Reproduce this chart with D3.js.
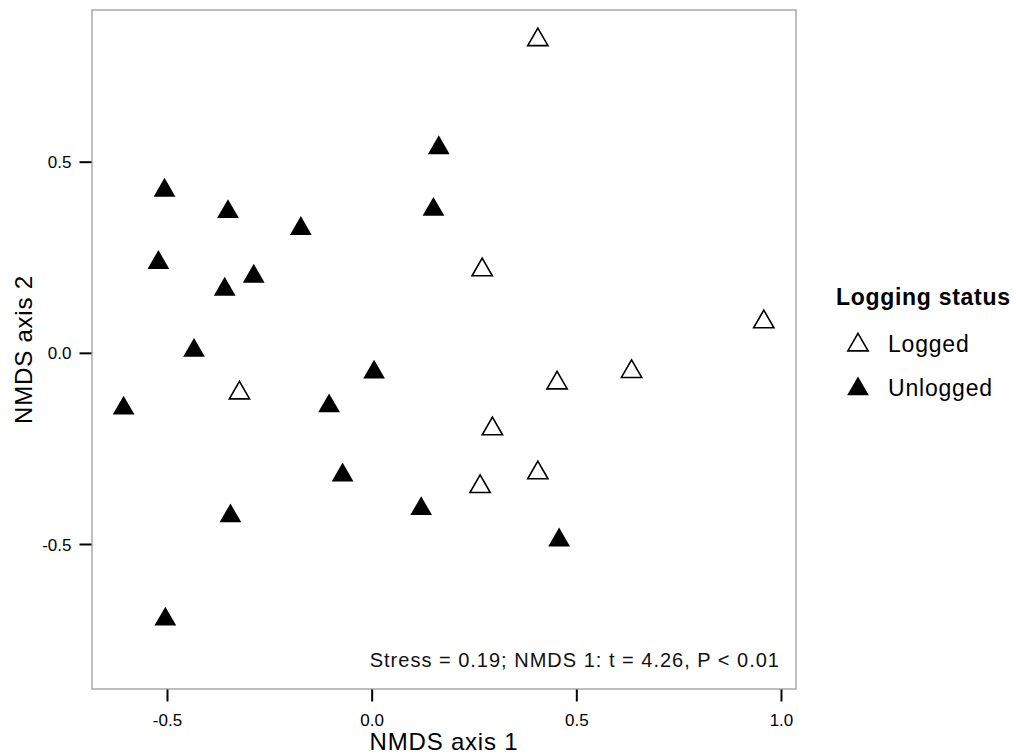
<!DOCTYPE html>
<html>
<head>
<meta charset="utf-8">
<script src="https://cdn.jsdelivr.net/npm/d3@7"></script>
<style>
  body { margin: 0; background: #fff; }
  text { font-family: "Liberation Sans", Arial, sans-serif; }
</style>
</head>
<body>
<svg id="chart" width="1016" height="756"></svg>
<script>
    // groups
    var statuses = ["Logged", "Unlogged"];

    // NMDS scores
    var loggedAxis1 = [0.406, 0.270, 0.958, -0.323, 0.453, 0.635, 0.295, 0.406, 0.265];
    var loggedAxis2 = [0.819, 0.217, 0.081, -0.105, -0.079, -0.049, -0.199, -0.314, -0.350];

    var unloggedAxis1 = [-0.506, -0.351, 0.164, 0.151, -0.173, -0.521, -0.288, -0.359, -0.434,
                         -0.606, 0.006, -0.104, -0.071, -0.345, 0.121, 0.458, -0.504];
    var unloggedAxis2 = [0.425, 0.369, 0.536, 0.375, 0.325, 0.236, 0.200, 0.166, 0.006,
                         -0.145, -0.051, -0.139, -0.320, -0.427, -0.408, -0.490, -0.697];

    var xTicks = [-0.5, 0.0, 0.5, 1.0];
    var yTicks = [-0.5, 0.0, 0.5];

    var note = "Stress = 0.19; NMDS 1: t = 4.26, P < 0.01";

    var svg = d3.select("#chart");

    var panelLeft = 92, panelRight = 796, panelTop = 10, panelBottom = 689;

    var xScale = d3.scaleLinear()
        .domain([-0.6832, 1.0367])
        .range([panelLeft, panelRight]);
    var yScale = d3.scaleLinear()
        .domain([-0.8793, 0.8968])
        .range([panelBottom, panelTop]);

    var points = [];
    loggedAxis1.forEach(function (v, i) {
        points.push({x: v, y: loggedAxis2[i], status: "Logged"});
    });
    unloggedAxis1.forEach(function (v, i) {
        points.push({x: v, y: unloggedAxis2[i], status: "Unlogged"});
    });

    // panel
    svg.append("rect")
        .attr("x", panelLeft)
        .attr("y", panelTop)
        .attr("width", panelRight - panelLeft)
        .attr("height", panelBottom - panelTop)
        .attr("fill", "#fff")
        .attr("stroke", "#a3a3a3")
        .attr("stroke-width", 1.4);

    var fmt = function (d) { return d.toFixed(1); };

    var xAxis = d3.axisBottom(xScale)
        .tickValues(xTicks)
        .tickFormat(fmt)
        .tickSize(12)
        .tickPadding(12);
    var gx = svg.append("g")
        .attr("transform", "translate(0," + (panelBottom + 0.5) + ")")
        .call(xAxis);

    var yAxis = d3.axisLeft(yScale)
        .tickValues(yTicks)
        .tickFormat(fmt)
        .tickSize(12)
        .tickPadding(8);
    var gy = svg.append("g")
        .attr("transform", "translate(" + (panelLeft - 0.5) + ",0)")
        .call(yAxis);

    [gx, gy].forEach(function (g) {
        g.select(".domain").remove();
        g.selectAll(".tick line")
            .attr("stroke", "#000")
            .attr("stroke-width", 2);
        g.selectAll(".tick text")
            .attr("fill", "#000")
            .style("font-family", "'Liberation Sans', Arial, sans-serif")
            .style("font-size", "17px");
    });
    gy.selectAll(".tick text").attr("dy", "0.36em");
    gx.selectAll(".tick text").attr("dy", "0.72em");

    var shape = d3.symbol().type(d3.symbolTriangle);

    svg.append("g").selectAll("path")
        .data(points)
        .enter()
        .append("path")
        .attr("transform", function (d) {
            return "translate(" + xScale(d.x) + "," + yScale(d.y) + ")";
        })
        .attr("d", function (d) {
            return shape.size(d.status === "Logged" ? 178 : 205)();
        })
        .attr("fill", function (d) {
            return d.status === "Logged" ? "#fff" : "#000";
        })
        .attr("stroke", "#000")
        .attr("stroke-width", function (d) {
            return d.status === "Logged" ? 1.6 : 0;
        });

    svg.append("text")
        .attr("x", 780)
        .attr("y", 667)
        .attr("text-anchor", "end")
        .style("font-size", "20px")
        .style("letter-spacing", "1px")
        .attr("fill", "#111")
        .text(note);

    // axis titles
    svg.append("text")
        .attr("x", (panelLeft + panelRight) / 2)
        .attr("y", 750)
        .attr("text-anchor", "middle")
        .style("font-size", "24px")
        .style("letter-spacing", "0.8px")
        .attr("fill", "#000")
        .text("NMDS axis 1");

    svg.append("text")
        .attr("transform", "translate(32," + (panelTop + panelBottom) / 2 + ") rotate(-90)")
        .attr("text-anchor", "middle")
        .style("font-size", "24px")
        .style("letter-spacing", "0.8px")
        .attr("fill", "#000")
        .text("NMDS axis 2");

    // legend
    var legend = svg.append("g");
    legend.append("text")
        .attr("x", 836)
        .attr("y", 305)
        .style("font-size", "23px")
        .style("font-weight", "bold")
        .style("letter-spacing", "0.7px")
        .attr("fill", "#000")
        .text("Logging status");

    var rows = legend.selectAll("g.row")
        .data(statuses)
        .enter()
        .append("g")
        .attr("class", "row")
        .attr("transform", function (d, i) {
            return "translate(0," + (i * 44) + ")";
        });
    rows.append("path")
        .attr("transform", "translate(858,345)")
        .attr("d", function (d) {
            return shape.size(d === "Logged" ? 178 : 205)();
        })
        .attr("fill", function (d) { return d === "Logged" ? "#fff" : "#000"; })
        .attr("stroke", "#000")
        .attr("stroke-width", function (d) { return d === "Logged" ? 1.6 : 0; });
    rows.append("text")
        .attr("x", 888)
        .attr("y", 352)
        .style("font-size", "23px")
        .style("letter-spacing", "0.8px")
        .attr("fill", "#000")
        .text(function (d) { return d; });
</script>
</body>
</html>
